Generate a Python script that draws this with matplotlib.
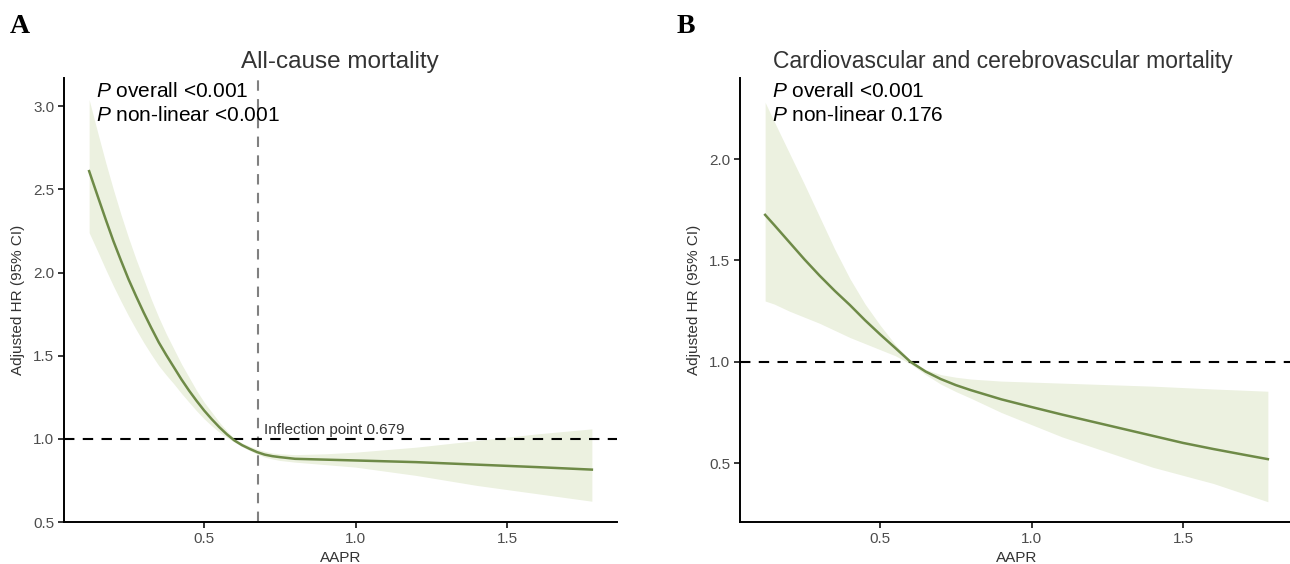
import matplotlib
matplotlib.use("Agg")
import matplotlib.pyplot as plt

plt.rcParams['font.family'] = ['Liberation Sans', 'DejaVu Sans']
plt.rcParams['mathtext.fontset'] = 'custom'
plt.rcParams['mathtext.rm'] = 'Liberation Sans'
plt.rcParams['mathtext.it'] = 'Liberation Sans:italic'

# ---- Panel A: all-cause mortality ----
a_x = [0.12, 0.15, 0.175, 0.20, 0.225, 0.25, 0.275, 0.30, 0.325, 0.35, 0.375, 0.40,
       0.425, 0.45, 0.475, 0.50, 0.525, 0.55, 0.575, 0.60, 0.625, 0.65, 0.675,
       0.70, 0.725, 0.75, 0.80, 0.90, 1.00, 1.20, 1.40, 1.60, 1.78]
a_hr = [2.61, 2.45, 2.318, 2.19, 2.073, 1.96, 1.858, 1.76, 1.668, 1.58, 1.503, 1.43,
        1.357, 1.29, 1.228, 1.17, 1.118, 1.07, 1.027, 0.99, 0.962, 0.94, 0.92,
        0.905, 0.896, 0.89, 0.88, 0.875, 0.87, 0.86, 0.845, 0.83, 0.815]
a_lo = [2.24, 2.12, 2.018, 1.92, 1.828, 1.74, 1.658, 1.58, 1.508, 1.44, 1.383, 1.33,
        1.273, 1.22, 1.168, 1.12, 1.078, 1.04, 1.008, 0.98, 0.953, 0.93, 0.908,
        0.89, 0.879, 0.87, 0.86, 0.845, 0.83, 0.78, 0.72, 0.67, 0.625]
a_hi = [3.04, 2.83, 2.66, 2.50, 2.35, 2.21, 2.08, 1.96, 1.84, 1.73, 1.63, 1.54,
        1.45, 1.37, 1.29, 1.22, 1.16, 1.10, 1.048, 1.00, 0.975, 0.955, 0.938,
        0.925, 0.915, 0.91, 0.905, 0.91, 0.92, 0.95, 0.99, 1.03, 1.06]
a_inflection = 0.679

# ---- Panel B: cardiovascular and cerebrovascular mortality ----
b_x = [0.12, 0.15, 0.20, 0.25, 0.30, 0.35, 0.40, 0.45, 0.50, 0.55, 0.60, 0.65,
       0.70, 0.75, 0.80, 0.90, 1.00, 1.10, 1.20, 1.30, 1.40, 1.50, 1.60, 1.70, 1.78]
b_hr = [1.725, 1.675, 1.59, 1.505, 1.425, 1.35, 1.28, 1.205, 1.135, 1.068, 1.0, 0.952,
        0.915, 0.885, 0.86, 0.815, 0.777, 0.74, 0.705, 0.67, 0.635, 0.60, 0.57, 0.542, 0.52]
b_lo = [1.30, 1.285, 1.25, 1.22, 1.19, 1.155, 1.12, 1.09, 1.06, 1.03, 0.99, 0.937,
        0.89, 0.853, 0.82, 0.75, 0.69, 0.63, 0.58, 0.53, 0.48, 0.44, 0.40, 0.35, 0.31]
b_hi = [2.28, 2.185, 2.03, 1.875, 1.715, 1.555, 1.41, 1.285, 1.18, 1.085, 1.005, 0.962,
        0.937, 0.924, 0.915, 0.905, 0.90, 0.895, 0.89, 0.885, 0.88, 0.873, 0.866, 0.86, 0.855]

a_yticks = [0.5, 1.0, 1.5, 2.0, 2.5, 3.0]
b_yticks = [0.5, 1.0, 1.5, 2.0]
xticks = [0.5, 1.0, 1.5]

LINE = '#6E8A47'
FILL = '#ECF1E0'

W, H = 1290, 564
fig = plt.figure(figsize=(W / 100, H / 100), dpi=100)

axA = fig.add_axes([64 / W, (H - 522) / H, 553 / W, 444 / H])
axB = fig.add_axes([740 / W, (H - 522) / H, 553 / W, 444 / H])

def style(ax, yticks, ylim, ptext):
    ax.set_xlim(0.037, 1.863)
    ax.set_ylim(*ylim)
    ax.set_xticks(xticks)
    ax.set_xticklabels([f"{v:.1f}" for v in xticks])
    ax.set_yticks(yticks)
    ax.set_yticklabels([f"{v:.1f}" for v in yticks])
    for s in ['top', 'right']:
        ax.spines[s].set_visible(False)
    for s in ['left', 'bottom']:
        ax.spines[s].set_linewidth(1.4)
        ax.spines[s].set_color('black')
    ax.tick_params(length=4, width=1.1, color='black', labelsize=11,
                   labelcolor='#4D4D4D', pad=3)
    ax.set_xlabel('AAPR', fontsize=11, color='#333333', labelpad=4)
    ax.set_ylabel('Adjusted HR (95% CI)', fontsize=11, color='#333333', labelpad=6)
    ax.axhline(1.0, color='black', lw=1.5, ls=(0, (5, 4)), zorder=3)
    ax.text(0.058, 0.99, ptext, transform=ax.transAxes, ha='left', va='top',
            fontsize=15, color='black', linespacing=1.3, zorder=5)

style(axA, a_yticks, (0.5, 3.17), "$P$ overall <0.001\n$P$ non-linear <0.001")
axA.fill_between(a_x, a_lo, a_hi, color=FILL, lw=0, zorder=1)
axA.plot(a_x, a_hr, color=LINE, lw=1.8, zorder=4)
axA.axvline(a_inflection, color='#808080', lw=1.5, ls=(0, (5, 4)), zorder=2)
axA.text(a_inflection + 0.02, 1.01, f"Inflection point {a_inflection}",
         fontsize=11, color='#333333', ha='left', va='bottom')

style(axB, b_yticks, (0.21, 2.40), "$P$ overall <0.001\n$P$ non-linear 0.176")
axB.fill_between(b_x, b_lo, b_hi, color=FILL, lw=0, zorder=1)
axB.plot(b_x, b_hr, color=LINE, lw=1.8, zorder=4)

fig.text(340 / W, 1 - 68 / H, 'All-cause mortality', fontsize=17.5,
         color='#333333', ha='center', va='baseline')
fig.text(1003 / W, 1 - 68 / H, 'Cardiovascular and cerebrovascular mortality',
         fontsize=16.5, color='#333333', ha='center', va='baseline')

fig.text(10 / W, 1 - 33 / H, 'A', fontsize=20, fontweight='bold',
         family='Liberation Serif', ha='left', va='baseline')
fig.text(677 / W, 1 - 33 / H, 'B', fontsize=20, fontweight='bold',
         family='Liberation Serif', ha='left', va='baseline')

fig.savefig('out.png', dpi=100)
